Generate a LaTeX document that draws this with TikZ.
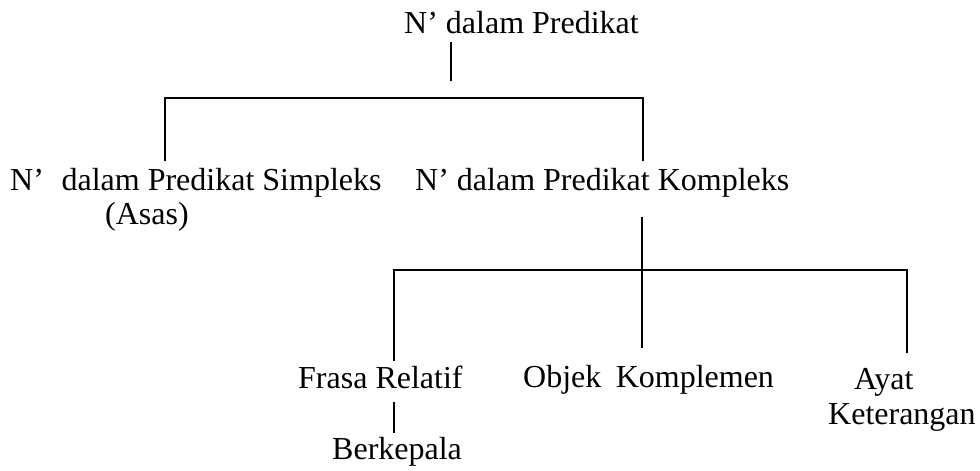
\documentclass[tikz,border=0pt]{standalone}
\usepackage{fontspec}
\setmainfont{Liberation Serif}
\begin{document}
\begin{tikzpicture}[x=1pt,y=-1pt,
  lbl/.style={anchor=base west,inner sep=0pt,font=\fontsize{32}{36}\selectfont},
  branch/.style={draw=black,line width=1.6pt}]
\useasboundingbox (0,0) rectangle (980,471);
% labels
\node[lbl] (top)   at (404,33)  {N’ dalam Predikat};
\node[lbl] (simp)  at (10,190)  {N’\hspace{0.55em}dalam Predikat Simpleks};
\node[lbl] (asas)  at (105,224) {(Asas)};
\node[lbl] (komp)  at (415,190) {N’ dalam Predikat Kompleks};
\node[lbl] (frasa) at (298,388) {Frasa Relatif};
\node[lbl] (objek) at (523,387) {Objek\hspace{0.45em}Komplemen};
\node[lbl] (ayat)  at (854,389) {Ayat};
\node[lbl] (ket)   at (828,424) {Keterangan};
\node[lbl] (berk)  at (332,459) {Berkepala};
% junction points on the two bars
\coordinate (b1L) at (165,98);
\coordinate (b1M) at (451,98);
\coordinate (b1R) at (643,98);
\coordinate (b2L) at (394,270);
\coordinate (b2M) at (642,270);
\coordinate (b2R) at (907,270);
% first level
\draw[branch] ([yshift=-9pt]top.base -| b1M) -- ([yshift=17pt]b1M);
\draw[branch] ([yshift=7pt]simp.north -| b1L) -- (b1L) -- (b1R)
              -- ([yshift=7pt]komp.north -| b1R);
% second level
\draw[branch] ([yshift=-20pt]komp.south -| b2M) -- ([yshift=17pt]objek.north -| b2M);
\draw[branch] ([yshift=4pt]frasa.north -| b2L) -- (b2L) -- (b2R)
              -- ([yshift=15pt]ayat.north -| b2R);
% third level
\draw[branch] ([yshift=-13pt]frasa.south -| b2L) -- ([yshift=4pt]berk.north -| b2L);
\end{tikzpicture}
\end{document}
